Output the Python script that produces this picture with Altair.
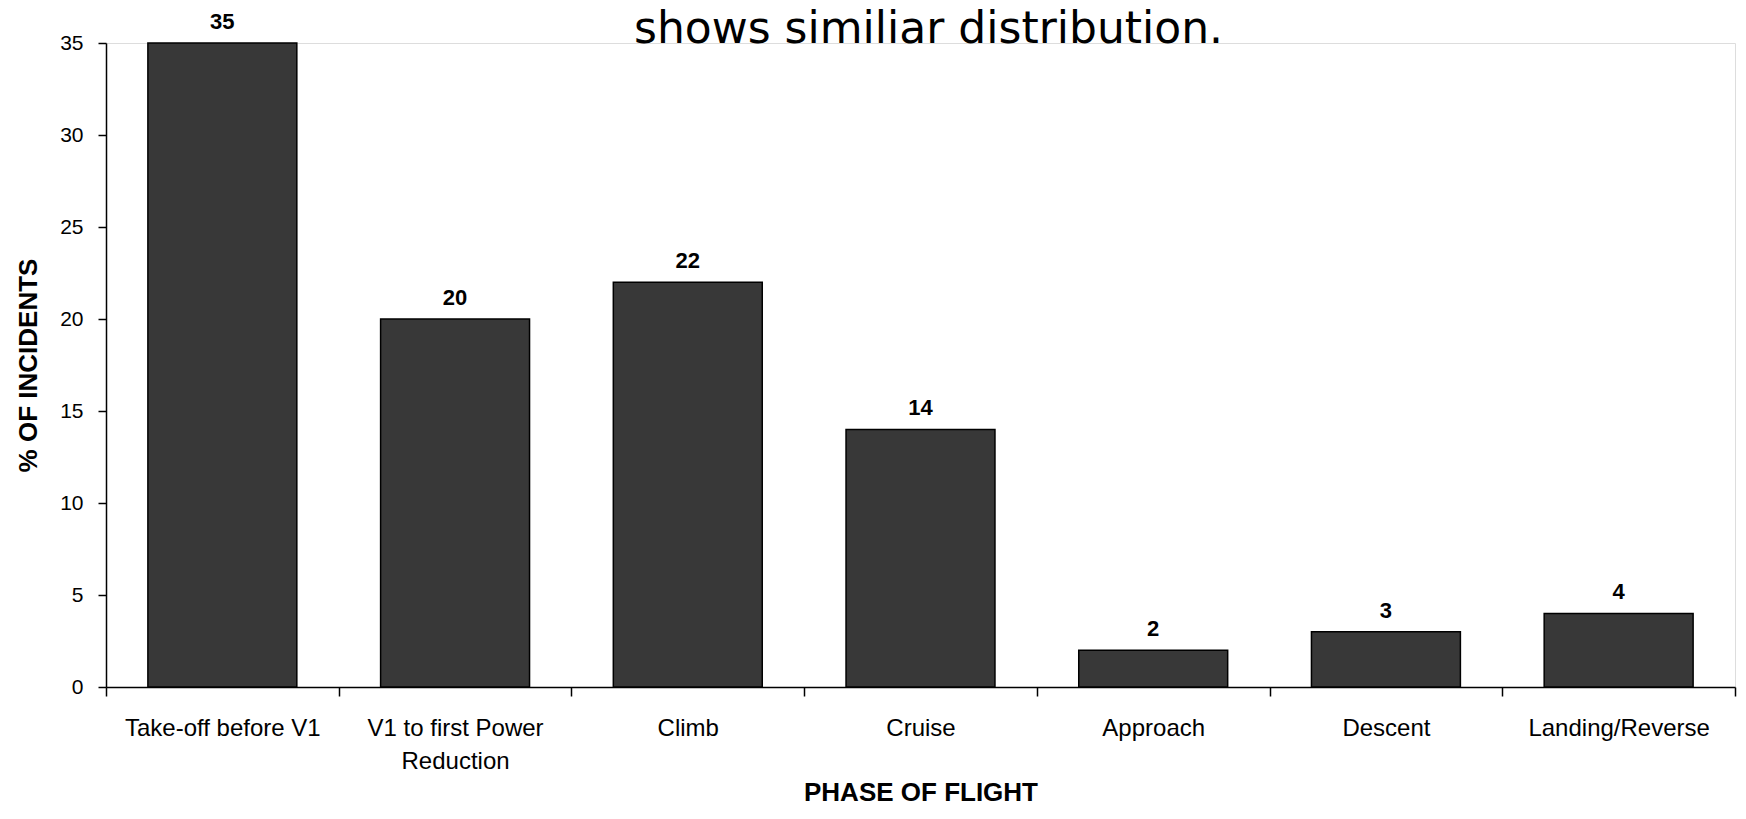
import altair as alt
import pandas as pd

phases = ["Take-off before V1", "V1 to first Power Reduction", "Climb", "Cruise",
          "Approach", "Descent", "Landing/Reverse"]
percent = [35, 20, 22, 14, 2, 3, 4]
y_ticks = [0, 5, 10, 15, 20, 25, 30, 35]
note = ["shows similiar distribution."]

df = pd.DataFrame({"phase": phases, "pct": percent})
note_df = pd.DataFrame({"note": note})

FONT = "Liberation Sans"
W, H = 1629, 644

x_enc = alt.X(
    "phase:N", sort=phases,
    scale=alt.Scale(paddingInner=0, paddingOuter=0),
    axis=alt.Axis(
        title="PHASE OF FLIGHT", labelAngle=0, tickBand="extent", labelLimit=400,
        labelExpr="datum.label == 'V1 to first Power Reduction' ? ['V1 to first Power', 'Reduction'] : datum.label",
        labelFont=FONT, labelFontSize=24, labelColor="black", labelPadding=20,
        labelLineHeight=33, labelBaseline="top",
        titleFont=FONT, titleFontSize=26, titleFontWeight="bold", titleColor="black",
        titlePadding=6,
        domainColor="black", domainWidth=1.5, tickColor="black", tickWidth=1.5, tickSize=9,
    ),
)
y_enc = alt.Y(
    "pct:Q",
    scale=alt.Scale(domain=[0, 35], nice=False),
    axis=alt.Axis(
        title="% OF INCIDENTS", values=y_ticks, grid=False,
        labelFont=FONT, labelFontSize=21, labelColor="black", labelPadding=15,
        titleFont=FONT, titleFontSize=26, titleFontWeight="bold", titleColor="black",
        titlePadding=18,
        domainColor="black", domainWidth=1.5, tickColor="black", tickWidth=1.5, tickSize=8,
    ),
)

base = alt.Chart(df).encode(x=x_enc, y=y_enc)

bars = base.mark_bar(width=alt.RelativeBandSize(0.64), color="#383838",
                     stroke="black", strokeWidth=1.5)
labels = base.mark_text(baseline="bottom", dy=-9, fontSize=22, font=FONT,
                        fontWeight="bold", color="black").encode(text="pct:Q")

annotation = alt.Chart(note_df).mark_text(
    baseline="alphabetic", align="center", fontSize=44, font="DejaVu Sans",
    color="black",
).encode(text="note:N", x=alt.value(W / 2 + 8), y=alt.value(0))

chart = (bars + labels + annotation).properties(
    width=W, height=H,
    autosize=alt.AutoSizeParams(type="none"),
    padding={"left": 98, "top": 35, "right": 3, "bottom": 120},
).configure_view(stroke=None).configure(background="white")

chart.save("out.html", embed_options={"renderer": "svg", "actions": False})
